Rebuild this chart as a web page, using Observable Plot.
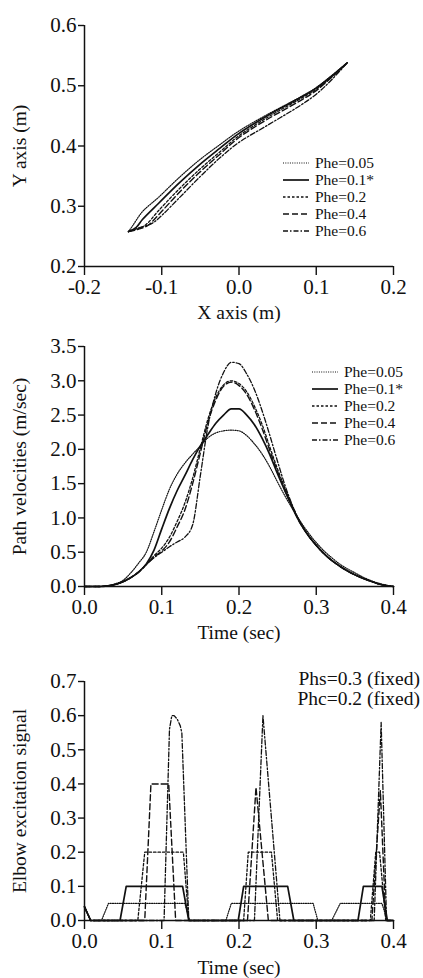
<!DOCTYPE html>
<html>
<head>
<meta charset="utf-8">
<script src="https://cdn.jsdelivr.net/npm/d3@7"></script>
<script src="https://cdn.jsdelivr.net/npm/@observablehq/plot@0.6"></script>
<style>
  html, body { margin: 0; padding: 0; background: #fff; }
  #root { width: 423px; font-family: "Liberation Serif", "DejaVu Serif", serif; color: #111; }
  #root svg, #root svg text { font-family: "Liberation Serif", "DejaVu Serif", serif !important; }
  .panel { position: relative; width: 423px; }
  .panel > svg { position: absolute; left: 0; top: 0; overflow: visible; }
  .legend { position: absolute; font-size: 15.5px; line-height: 17px; }
  .legend .row { display: flex; align-items: center; height: 17px; white-space: nowrap; }
  .legend svg { display: block; margin-right: 6px; }
  .note { position: absolute; right: 3px; font-size: 19.5px; line-height: 20px; text-align: right; white-space: nowrap; }
</style>
</head>
<body>
<div id="root"></div>
<script>
// ---------- Series names ----------
const pheLabels = ["Phe=0.05", "Phe=0.1*", "Phe=0.2", "Phe=0.4", "Phe=0.6"];

// ---------- Panel 1: hand path (x, y in m) ----------
const xTicks1 = [-0.2, -0.1, 0.0, 0.1, 0.2];
const yTicks1 = [0.2, 0.3, 0.4, 0.5, 0.6];
const pathX_005 = [-0.143, -0.138, -0.125, -0.104, -0.078, -0.052, -0.025, 0.0, 0.035, 0.079, 0.1, 0.12, 0.14];
const pathY_005 = [0.258, 0.267, 0.291, 0.315, 0.347, 0.376, 0.402, 0.425, 0.451, 0.481, 0.497, 0.517, 0.538];
const pathX_01  = [-0.143, -0.133, -0.125, -0.104, -0.078, -0.052, -0.025, 0.0, 0.035, 0.079, 0.1, 0.12, 0.14];
const pathY_01  = [0.258, 0.265, 0.278, 0.305, 0.338, 0.368, 0.396, 0.421, 0.449, 0.480, 0.496, 0.516, 0.538];
const pathX_02  = [-0.143, -0.130, -0.120, -0.104, -0.078, -0.052, -0.025, 0.0, 0.035, 0.079, 0.1, 0.12, 0.14];
const pathY_02  = [0.258, 0.263, 0.270, 0.293, 0.328, 0.360, 0.390, 0.417, 0.446, 0.478, 0.494, 0.515, 0.538];
const pathX_04  = [-0.143, -0.130, -0.118, -0.104, -0.078, -0.052, -0.025, 0.0, 0.035, 0.079, 0.1, 0.12, 0.14];
const pathY_04  = [0.258, 0.262, 0.268, 0.286, 0.322, 0.355, 0.386, 0.414, 0.443, 0.475, 0.492, 0.514, 0.538];
const pathX_06  = [-0.143, -0.130, -0.112, -0.099, -0.078, -0.052, -0.025, 0.0, 0.035, 0.079, 0.1, 0.12, 0.14];
const pathY_06  = [0.258, 0.264, 0.272, 0.286, 0.313, 0.347, 0.380, 0.406, 0.433, 0.467, 0.486, 0.510, 0.538];

// ---------- Panel 2: path velocities (m/sec) ----------
const xTicks2 = [0.0, 0.1, 0.2, 0.3, 0.4];
const yTicks2 = [0.0, 0.5, 1.0, 1.5, 2.0, 2.5, 3.0, 3.5];
const velTime = [0, 0.02, 0.03, 0.04, 0.05, 0.06, 0.07, 0.08, 0.09, 0.10, 0.11, 0.12, 0.13, 0.14, 0.15, 0.16, 0.17, 0.18, 0.19, 0.20,
                 0.21, 0.22, 0.23, 0.24, 0.25, 0.26, 0.27, 0.28, 0.29, 0.30, 0.31, 0.32, 0.33, 0.34, 0.35, 0.36, 0.37, 0.38, 0.39, 0.40];
const vel_005 = [0, 0, 0.01, 0.04, 0.09, 0.20, 0.34, 0.50, 0.80, 1.12, 1.42, 1.64, 1.80, 1.93, 2.05, 2.17, 2.24, 2.27, 2.28, 2.27,
                 2.20, 2.08, 1.93, 1.74, 1.52, 1.31, 1.12, 0.94, 0.78, 0.64, 0.52, 0.42, 0.33, 0.26, 0.20, 0.14, 0.09, 0.05, 0.02, 0];
const vel_01  = [0, 0, 0.01, 0.03, 0.07, 0.13, 0.21, 0.33, 0.53, 0.84, 1.14, 1.40, 1.62, 1.85, 2.05, 2.22, 2.38, 2.50, 2.59, 2.59,
                 2.50, 2.36, 2.16, 1.92, 1.64, 1.38, 1.13, 0.91, 0.74, 0.60, 0.48, 0.38, 0.30, 0.23, 0.17, 0.12, 0.08, 0.04, 0.015, 0];
const vel_02  = [0, 0, 0.01, 0.03, 0.07, 0.13, 0.21, 0.32, 0.45, 0.56, 0.72, 0.95, 1.22, 1.58, 2.02, 2.45, 2.76, 2.94, 3.00, 2.96,
                 2.84, 2.63, 2.36, 2.03, 1.71, 1.42, 1.15, 0.92, 0.74, 0.60, 0.48, 0.38, 0.30, 0.23, 0.17, 0.12, 0.08, 0.04, 0.015, 0];
const vel_04  = [0, 0, 0.01, 0.03, 0.07, 0.13, 0.21, 0.32, 0.43, 0.52, 0.65, 0.87, 1.12, 1.50, 1.95, 2.40, 2.72, 2.92, 2.98, 2.93,
                 2.80, 2.58, 2.30, 1.98, 1.67, 1.39, 1.13, 0.91, 0.74, 0.60, 0.48, 0.38, 0.30, 0.23, 0.17, 0.12, 0.08, 0.04, 0.015, 0];
const vel_06  = [0, 0, 0.01, 0.03, 0.07, 0.13, 0.21, 0.32, 0.42, 0.50, 0.58, 0.65, 0.72, 0.90, 1.62, 2.35, 2.82, 3.12, 3.27, 3.25,
                 3.10, 2.87, 2.56, 2.20, 1.82, 1.46, 1.16, 0.92, 0.74, 0.60, 0.48, 0.38, 0.30, 0.23, 0.17, 0.12, 0.08, 0.04, 0.015, 0];

// ---------- Panel 3: elbow excitation signal ----------
const xTicks3 = [0.0, 0.1, 0.2, 0.3, 0.4];
const yTicks3 = [0.0, 0.1, 0.2, 0.3, 0.4, 0.5, 0.6, 0.7];
const excT_005 = [0, 0.008, 0.022, 0.031, 0.130, 0.136, 0.183, 0.190, 0.296, 0.302, 0.320, 0.331, 0.385, 0.392, 0.400];
const excV_005 = [0.04, 0, 0, 0.05, 0.05, 0, 0, 0.05, 0.05, 0, 0, 0.05, 0.05, 0, 0];
const excT_01  = [0, 0.008, 0.046, 0.054, 0.127, 0.135, 0.199, 0.206, 0.263, 0.271, 0.354, 0.361, 0.385, 0.392, 0.400];
const excV_01  = [0.04, 0, 0, 0.1, 0.1, 0, 0, 0.1, 0.1, 0, 0, 0.1, 0.1, 0, 0];
const excT_02  = [0, 0.008, 0.069, 0.078, 0.128, 0.135, 0.206, 0.212, 0.242, 0.250, 0.370, 0.377, 0.382, 0.390, 0.400];
const excV_02  = [0.04, 0, 0, 0.2, 0.2, 0, 0, 0.2, 0.2, 0, 0, 0.2, 0.2, 0, 0];
const excT_04  = [0, 0.008, 0.078, 0.086, 0.109, 0.118, 0.211, 0.222, 0.238, 0.372, 0.383, 0.390, 0.400];
const excV_04  = [0.04, 0, 0, 0.4, 0.4, 0, 0, 0.39, 0, 0, 0.38, 0, 0];
const excT_06  = [0, 0.008, 0.103, 0.110, 0.113, 0.116, 0.120, 0.124, 0.126, 0.135, 0.220, 0.231, 0.253, 0.375, 0.384, 0.391, 0.400];
const excV_06  = [0.04, 0, 0, 0.56, 0.60, 0.60, 0.59, 0.57, 0.55, 0, 0, 0.60, 0, 0, 0.58, 0, 0];
const noteLines = ["Phs=0.3 (fixed)", "Phc=0.2 (fixed)"];

// ---------- Line styles (one per series) ----------
const styles = [
  {dash: "1,1.3", width: 1.2},
  {dash: null, width: 1.7},
  {dash: "2.5,2", width: 1.3},
  {dash: "6,3", width: 1.4},
  {dash: "5,2,1.5,2", width: 1.3}
];

function zipXY(xs, ys) { return xs.map((x, i) => ({x, y: ys[i]})); }

const pathSeries = [zipXY(pathX_005, pathY_005), zipXY(pathX_01, pathY_01), zipXY(pathX_02, pathY_02), zipXY(pathX_04, pathY_04), zipXY(pathX_06, pathY_06)];
const velSeries = [vel_005, vel_01, vel_02, vel_04, vel_06].map(v => zipXY(velTime, v));
const excSeries = [zipXY(excT_005, excV_005), zipXY(excT_01, excV_01), zipXY(excT_02, excV_02), zipXY(excT_04, excV_04), zipXY(excT_06, excV_06)];

const FONT = "Liberation Serif";
const fmt1 = d => d.toFixed(1);

function makePlot({height, marginTop, marginBottom, xDom, yDom, xTicks, yTicks, xLabel, yLabel, series, curve, xLabelOffset}) {
  const lines = [0, 1, 2, 3, 4].map(i => Plot.line(series[i], {
    x: "x", y: "y", curve,
    stroke: "#111",
    strokeWidth: styles[i].width,
    strokeDasharray: styles[i].dash || undefined
  }));
  return Plot.plot({
    width: 423, height,
    marginLeft: 84, marginRight: 30, marginTop, marginBottom,
    style: {fontFamily: FONT, fontSize: "19.5px", color: "#111", background: "transparent", overflow: "visible"},
    x: {domain: xDom},
    y: {domain: yDom},
    marks: [
      Plot.axisX({ticks: xTicks, tickFormat: fmt1, tickSize: 9, tickPadding: 4, strokeWidth: 1.4,
                  fontSize: 21, label: null}),
      Plot.axisX({ticks: [], label: xLabel, labelAnchor: "center", labelArrow: "none", labelOffset: xLabelOffset, fontSize: 19.5}),
      Plot.axisY({ticks: yTicks, tickFormat: fmt1, tickSize: 6, tickPadding: 2, strokeWidth: 1.4,
                  fontSize: 21, label: null}),
      Plot.axisY({ticks: [], label: yLabel, labelAnchor: "center", labelArrow: "none", labelOffset: 72, fontSize: 19.5}),
      Plot.ruleX([xDom[0]], {stroke: "#111", strokeWidth: 1.5}),
      Plot.ruleY([yDom[0]], {stroke: "#111", strokeWidth: 1.5}),
      ...lines
    ]
  });
}

function makeLegend(left, top, sampleWidth) {
  const lg = document.createElement("div");
  lg.className = "legend";
  lg.style.left = left + "px";
  lg.style.top = top + "px";
  pheLabels.forEach((lab, i) => {
    const row = document.createElement("div");
    row.className = "row";
    const svg = d3.create("svg").attr("width", sampleWidth).attr("height", 17);
    svg.append("line").attr("x1", 0).attr("x2", sampleWidth).attr("y1", 9).attr("y2", 9)
      .attr("stroke", "#111").attr("stroke-width", styles[i].width)
      .attr("stroke-dasharray", styles[i].dash);
    row.appendChild(svg.node());
    const span = document.createElement("span");
    span.textContent = lab;
    row.appendChild(span);
    lg.appendChild(row);
  });
  return lg;
}

const root = document.getElementById("root");

// Panel 1
const p1 = document.createElement("div"); p1.className = "panel"; p1.style.height = "330px";
p1.appendChild(makePlot({height: 330, marginTop: 25, marginBottom: 64, xDom: [-0.2, 0.2], yDom: [0.2, 0.6],
  xTicks: xTicks1, yTicks: yTicks1, xLabel: "X axis (m)", yLabel: "Y axis (m)", series: pathSeries, curve: "catmull-rom", xLabelOffset: 52}));
p1.appendChild(makeLegend(283, 154, 26));
root.appendChild(p1);

// Panel 2
const p2 = document.createElement("div"); p2.className = "panel"; p2.style.height = "310px";
p2.appendChild(makePlot({height: 310, marginTop: 16, marginBottom: 54, xDom: [0, 0.4], yDom: [0, 3.5],
  xTicks: xTicks2, yTicks: yTicks2, xLabel: "Time (sec)", yLabel: "Path velocities (m/sec)", series: velSeries, curve: "monotone-x", xLabelOffset: 52}));
p2.appendChild(makeLegend(312, 33, 26));
root.appendChild(p2);

// Panel 3
const p3 = document.createElement("div"); p3.className = "panel"; p3.style.height = "338px";
p3.appendChild(makePlot({height: 338, marginTop: 41, marginBottom: 58, xDom: [0, 0.4], yDom: [0, 0.7],
  xTicks: xTicks3, yTicks: yTicks3, xLabel: "Time (sec)", yLabel: "Elbow excitation signal", series: excSeries, curve: "linear", xLabelOffset: 53}));
const note = document.createElement("div"); note.className = "note"; note.style.top = "29px";
noteLines.forEach(t => { const d = document.createElement("div"); d.textContent = t; note.appendChild(d); });
p3.appendChild(note);
root.appendChild(p3);
</script>
</body>
</html>
